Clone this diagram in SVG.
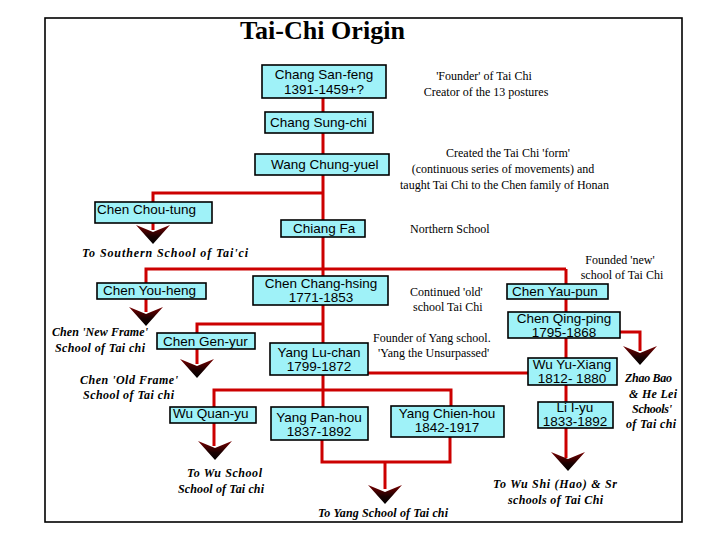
<svg xmlns="http://www.w3.org/2000/svg" width="720" height="540" viewBox="0 0 720 540">
<style>
.box{fill:#9ff2f8;stroke:#000;stroke-width:1.6}
.bt{font-family:"Liberation Sans",Arial,sans-serif;font-size:13.5px;fill:#000}
.c{text-anchor:middle}
.note{font-family:"Liberation Serif","Times New Roman",serif;font-size:12px;fill:#000}
.it{font-family:"Liberation Serif","Times New Roman",serif;font-size:12px;font-style:italic;font-weight:bold;fill:#000}
.ln{fill:none;stroke:#cc0000;stroke-width:3}
</style>
<defs>
<linearGradient id="ag" x1="0" y1="0" x2="0" y2="1">
<stop offset="0" stop-color="#7a0000"/>
<stop offset="0.6" stop-color="#1a0000"/>
<stop offset="1" stop-color="#000"/>
</linearGradient>
<path id="ah" d="M-17,0 L0,7 L17,0 L0,19 Z" fill="url(#ag)"/>
</defs>
<rect x="0" y="0" width="720" height="540" fill="#fff"/>
<rect x="45" y="18" width="637" height="504" fill="#fff" stroke="#000" stroke-width="1.6"/>
<text x="240" y="39" font-family="'Liberation Serif','Times New Roman',serif" font-size="25" font-weight="bold" textLength="165" lengthAdjust="spacingAndGlyphs">Tai-Chi Origin</text>

<g id="connectors">
<path class="ln" d="M323,98 V407"/>
<path class="ln" d="M323,193 H153 V230"/>
<path class="ln" d="M566,269 H146 V312"/>
<path class="ln" d="M566,269 V458"/>
<path class="ln" d="M323,324 H197 V364"/>
<path class="ln" d="M368,373 H528"/>
<path class="ln" d="M620,332 H640 V351"/>
<path class="ln" d="M214,407 V390 H451 V406"/>
<path class="ln" d="M214,423 V446"/>
<path class="ln" d="M322,440 V462 H450 V437"/>
<path class="ln" d="M385,462 V489"/>
<use href="#ah" x="153" y="225"/>
<use href="#ah" x="146" y="307"/>
<use href="#ah" x="197" y="359"/>
<use href="#ah" x="640" y="346"/>
<use href="#ah" x="215" y="441"/>
<use href="#ah" x="385" y="485"/>
<use href="#ah" x="568" y="452"/>
</g>

<g id="chang-san-feng"><rect class="box" x="262" y="65" width="124" height="33"/><text class="bt c" x="324" y="79">Chang San-feng</text><text class="bt c" x="324" y="94">1391-1459+?</text></g>
<g id="chang-sung-chi"><rect class="box" x="265" y="112" width="108" height="21"/><text class="bt" x="270" y="127">Chang Sung-chi</text></g>
<g id="wang-chung-yueh"><rect class="box" x="255" y="154" width="134" height="21"/><text class="bt" x="271" y="169">Wang Chung-yuel</text></g>
<g id="chen-chou-tung"><rect class="box" x="95" y="202" width="117" height="21"/><text class="bt" x="97" y="214">Chen Chou-tung</text></g>
<g id="chiang-fa"><rect class="box" x="281" y="220" width="84" height="17"/><text class="bt" x="293" y="233">Chiang Fa</text></g>
<g id="chen-you-heng"><rect class="box" x="97" y="283" width="109" height="16"/><text class="bt" x="103" y="295">Chen You-heng</text></g>
<g id="chen-chang-hsing"><rect class="box" x="253" y="276" width="135" height="29"/><text class="bt c" x="321" y="288">Chen Chang-hsing</text><text class="bt c" x="321" y="302">1771-1853</text></g>
<g id="chen-yau-pun"><rect class="box" x="507" y="284" width="101" height="15"/><text class="bt" x="512" y="296">Chen Yau-pun</text></g>
<g id="chen-qing-ping"><rect class="box" x="508" y="312" width="112" height="26"/><text class="bt c" x="564" y="323">Chen Qing-ping</text><text class="bt c" x="564" y="337">1795-1868</text></g>
<g id="chen-gen-yun"><rect class="box" x="157" y="333" width="98" height="16"/><text class="bt" x="163" y="346">Chen Gen-yur</text></g>
<g id="yang-lu-chan"><rect class="box" x="270" y="343" width="98" height="32"/><text class="bt c" x="319" y="357">Yang Lu-chan</text><text class="bt c" x="319" y="371">1799-1872</text></g>
<g id="wu-yu-xiang"><rect class="box" x="528" y="358" width="89" height="27"/><text class="bt c" x="572" y="369">Wu Yu-Xiang</text><text class="bt c" x="572" y="383">1812- 1880</text></g>
<g id="wu-quan-yu"><rect class="box" x="170" y="407" width="86" height="16"/><text class="bt" x="173" y="418">Wu Quan-yu</text></g>
<g id="yang-pan-hou"><rect class="box" x="271" y="407" width="97" height="33"/><text class="bt c" x="319" y="422">Yang Pan-hou</text><text class="bt c" x="319" y="436">1837-1892</text></g>
<g id="yang-chien-hou"><rect class="box" x="391" y="406" width="113" height="31"/><text class="bt c" x="447" y="418">Yang Chien-hou</text><text class="bt c" x="447" y="432">1842-1917</text></g>
<g id="li-i-yu"><rect class="box" x="538" y="402" width="75" height="26"/><text class="bt c" x="575" y="412">Li I-yu</text><text class="bt c" x="575" y="426">1833-1892</text></g>

<g id="notes">
<text class="note c" x="484" y="80">'Founder' of Tai Chi</text>
<text class="note c" x="486" y="96">Creator of the 13 postures</text>
<text class="note c" x="508" y="157">Created the Tai Chi 'form'</text>
<text class="note c" x="503" y="173">(continuous series of movements) and</text>
<text class="note" x="400" y="189">taught Tai Chi to the Chen family of Honan</text>
<text class="note" x="410" y="233">Northern School</text>
<text class="note c" x="620" y="264">Founded 'new'</text>
<text class="note c" x="622" y="279">school of Tai Chi</text>
<text class="note" x="410" y="296">Continued 'old'</text>
<text class="note" x="413" y="311">school Tai Chi</text>
<text class="note" x="373" y="342">Founder of Yang school.</text>
<text class="note" x="378" y="357">'Yang the Unsurpassed'</text>
<text class="it" x="82" y="257" textLength="166">To Southern School of Tai'ci</text>
<text class="it" x="52" y="336" textLength="96">Chen 'New Frame'</text>
<text class="it" x="55" y="352" textLength="90">School of Tai chi</text>
<text class="it" x="80" y="384" textLength="98">Chen 'Old Frame'</text>
<text class="it" x="83" y="399" textLength="91">School of Tai chi</text>
<text class="it" x="625" y="382" textLength="47">Zhao Bao</text>
<text class="it" x="629" y="398" textLength="48">&amp; He Lei</text>
<text class="it" x="632" y="413" textLength="40">Schools'</text>
<text class="it" x="626" y="428" textLength="50">of Tai chi</text>
<text class="it" x="187" y="477" textLength="75">To Wu School</text>
<text class="it" x="178" y="493" textLength="86">School of Tai chi</text>
<text class="it" x="318" y="517" textLength="130">To Yang School of Tai chi</text>
<text class="it" x="493" y="488" textLength="124">To Wu Shi (Hao) &amp; Sr</text>
<text class="it" x="508" y="504" textLength="95">schools of Tai Chi</text>
</g>
</svg>
